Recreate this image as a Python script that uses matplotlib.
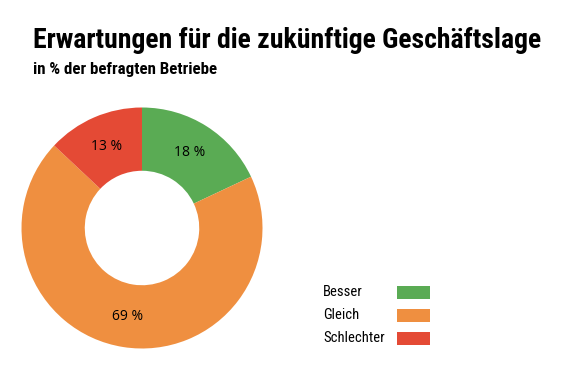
import matplotlib
matplotlib.use("Agg")
import matplotlib.pyplot as plt
from matplotlib.patches import Rectangle

# data
labels = ["Besser", "Gleich", "Schlechter"]
values = [18, 69, 13]
colors = ["#5aab54", "#ef8f40", "#e44a35"]

title = "Erwartungen für die zukünftige Geschäftslage"
subtitle = "in % der befragten Betriebe"

W, H = 585, 381
fig = plt.figure(figsize=(W / 100, H / 100), dpi=100)
fig.patch.set_facecolor("white")

cond = ["Roboto Condensed", "DejaVu Sans"]
body = ["Open Sans", "DejaVu Sans"]

fig.text(33 / W, 1 - 48 / H, title, fontsize=20, fontweight="bold",
         family=cond, ha="left", va="baseline")
fig.text(33 / W, 1 - 74 / H, subtitle, fontsize=12.2, fontweight="bold",
         family=cond, ha="left", va="baseline")

# donut
cx, cy, r = 142, 228, 120.5
ax = fig.add_axes([(cx - r) / W, 1 - (cy + r) / H, 2 * r / W, 2 * r / H])
wedges, _, autotexts = ax.pie(values, colors=colors, startangle=90, counterclock=False,
                              radius=1, autopct=lambda p: f"{p:.0f} %", pctdistance=0.74,
                              wedgeprops=dict(width=0.525, linewidth=0),
                              textprops=dict(fontsize=10, family=body, color="black"))
ax.set_xlim(-1, 1)
ax.set_ylim(-1, 1)
ax.set_aspect("equal")
ax.axis("off")

# legend drawn by hand: label on the left, colour box on the right
for i, (lab, col) in enumerate(zip(labels, colors)):
    y = 292 + i * 23
    fig.text(323 / W, 1 - y / H, lab, fontsize=10.5, family=cond,
             ha="left", va="center")
    fig.add_artist(Rectangle((397 / W, 1 - (y + 6.5) / H), 33 / W, 13 / H,
                             transform=fig.transFigure, facecolor=col,
                             edgecolor="none"))

fig.savefig("out.png", dpi=100)
